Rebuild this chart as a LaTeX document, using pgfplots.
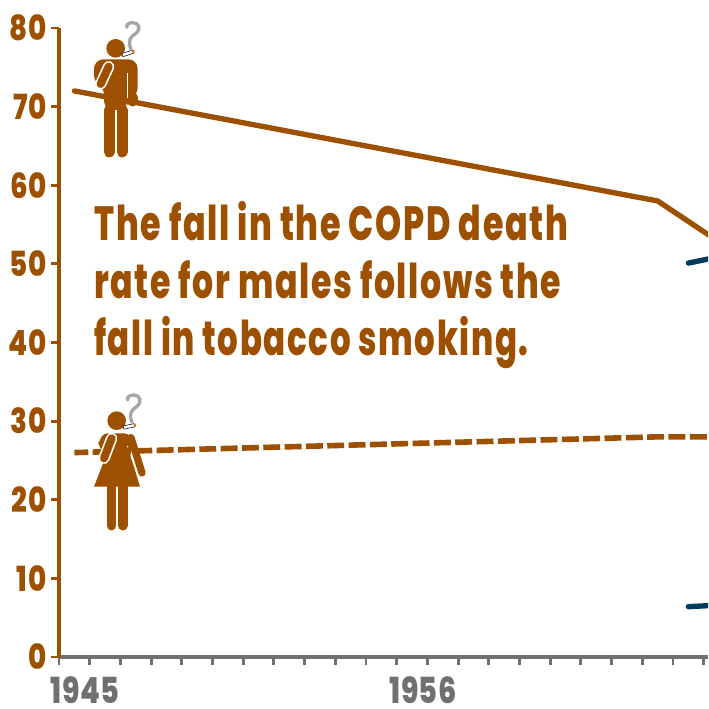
\documentclass[border=0pt]{standalone}
\usepackage{pgfplots}
\usepackage{fontspec}
\pgfplotsset{compat=1.18}
\newfontfamily\ff[FakeStretch=0.70,LetterSpace=3.5]{Poppins ExtraBold}
\newfontfamily\fd[FakeStretch=0.80,LetterSpace=1]{Poppins ExtraBold}
\definecolor{br}{HTML}{9C5000}
\definecolor{gr}{HTML}{707070}
\definecolor{bl}{HTML}{003A5C}
\begin{document}
\begin{tikzpicture}[x=1pt,y=1pt]
\path[use as bounding box] (0,0) rectangle (531,531.75);
\begin{axis}[at={(44.25pt,39pt)},anchor=south west,scale only axis,
 width=486.75pt,height=471.75pt,
 xmin=1944.5,xmax=1965.64,ymin=0,ymax=80,
 axis lines=left,axis line style={-,line width=3pt},
 x axis line style={gr},y axis line style={br},
 xtick={1944.5,1945.5,...,1965.5},
 xticklabels={},
 ytick={0,10,...,80},
 tick align=outside,
 major tick length=6pt,
 x tick style={gr,line width=2.2pt},
 y tick style={br,line width=2.2pt},
 yticklabel style={font=\fd\fontsize{26}{26}\selectfont,text=br,xshift=0pt},
 /pgf/number format/assume math mode=true,
 clip=true]
\addplot[br,line width=4pt,line join=round,line cap=round] coordinates {(1945,72)(1964,58)(1966,52.8)};
\addplot[br,line width=4.2pt,dash pattern=on 12.7pt off 3.3pt,dash phase=2.25pt] coordinates {(1945,26)(1964,28)(1966,28)};
\addplot[bl,line width=4pt,line cap=round] coordinates {(1965,50.1)(1966,50.9)};
\addplot[bl,line width=4pt,line cap=round] coordinates {(1965,6.4)(1966,6.6)};
\end{axis}
\begin{scope}[shift={(0,531.75)},x=.75pt,y=-.75pt]
\node[anchor=base,inner sep=0pt,font=\fd\fontsize{27}{27}\selectfont,text=gr] at (85,704) {1945};
\node[anchor=base,inner sep=0pt,font=\fd\fontsize{27}{27}\selectfont,text=gr] at (423,704) {1956};
\node[anchor=base west,inner sep=0pt,font=\ff\fontsize{36}{36}\selectfont,text=br,xscale=.99,transform shape] at (94,241) {The fall in the COPD death};
\node[anchor=base west,inner sep=0pt,font=\ff\fontsize{36}{36}\selectfont,text=br,xscale=.985,transform shape] at (94,298.5) {rate for males follows the};
\node[anchor=base west,inner sep=0pt,font=\ff\fontsize{36}{36}\selectfont,text=br,xscale=.965,transform shape] at (94,356) {fall in tobacco smoking.};
\end{scope}
% man
\begin{scope}[shift={(52.5,524.25)},x=.25pt,y=-.25pt]
\fill[br] (137,115) circle (28);
\fill[br,rounded corners=7pt] (72,225) -- (72,148) -- (203,148) -- (203,262) -- (172,262) -- (172,300) -- (102,300) -- (102,225) -- cycle;
\draw[br,line width=7.75pt,line cap=round] (187,262) -- (187,274);
\draw[white,line width=.8pt] (172,190) -- (172,265);
\draw[br,line width=8.25pt,line cap=round] (118,300) -- (118,426);
\draw[br,line width=8.25pt,line cap=round] (156,300) -- (156,426);
\draw[white,line width=8.5pt,line cap=round] (116,170) -- (92,222);
\draw[br,line width=6pt,line cap=round] (116,170) -- (92,222);
\fill[white,rotate around={18:(174,130)}] (156,125) rectangle (192,135);
\draw[black,line width=.4pt,rotate around={18:(174,130)}] (156,125) rectangle (190,135);
\fill[orange!80!red,rotate around={18:(174,130)}] (188,126) rectangle (194,134);
\draw[gray!70,line width=2.5pt,line cap=round] (183,118) .. controls (172,90) and (182,80) .. (198,70) .. controls (215,55) and (205,38) .. (188,38) .. controls (175,38) and (168,45) .. (171,52);
\end{scope}
% woman
\begin{scope}[shift={(52.5,243)},x=.25pt,y=-.25pt]
\fill[br] (140,107) circle (28);
\fill[br,rounded corners=3pt] (85,175) -- (100,145) -- (175,145) -- (195,175) -- (178,200) [sharp corners] -- (210,305) -- (72,305) -- (105,220) -- cycle;
\draw[br,line width=5.5pt,line cap=round] (183,158) -- (216,264);
\draw[white,line width=.8pt] (183,213) -- (204,268);
\fill[white] (173,185) circle (2.5);
\draw[br,line width=7.25pt,line cap=round] (124,300) -- (124,422);
\draw[br,line width=7.25pt,line cap=round] (158,300) -- (158,422);
\draw[white,line width=8.5pt,line cap=round] (125,160) -- (102,220);
\draw[br,line width=6pt,line cap=round] (125,160) -- (102,220);
\fill[white,rotate around={12:(178,124)}] (160,119) rectangle (196,129);
\draw[black,line width=.4pt,rotate around={12:(178,124)}] (160,119) rectangle (194,129);
\fill[orange!80!red,rotate around={12:(178,124)}] (192,120) rectangle (198,128);
\draw[gray!70,line width=2.5pt,line cap=round] (186,112) .. controls (175,85) and (185,75) .. (200,65) .. controls (218,50) and (210,30) .. (192,30) .. controls (178,30) and (170,37) .. (173,45);
\end{scope}
\end{tikzpicture}
\end{document}
